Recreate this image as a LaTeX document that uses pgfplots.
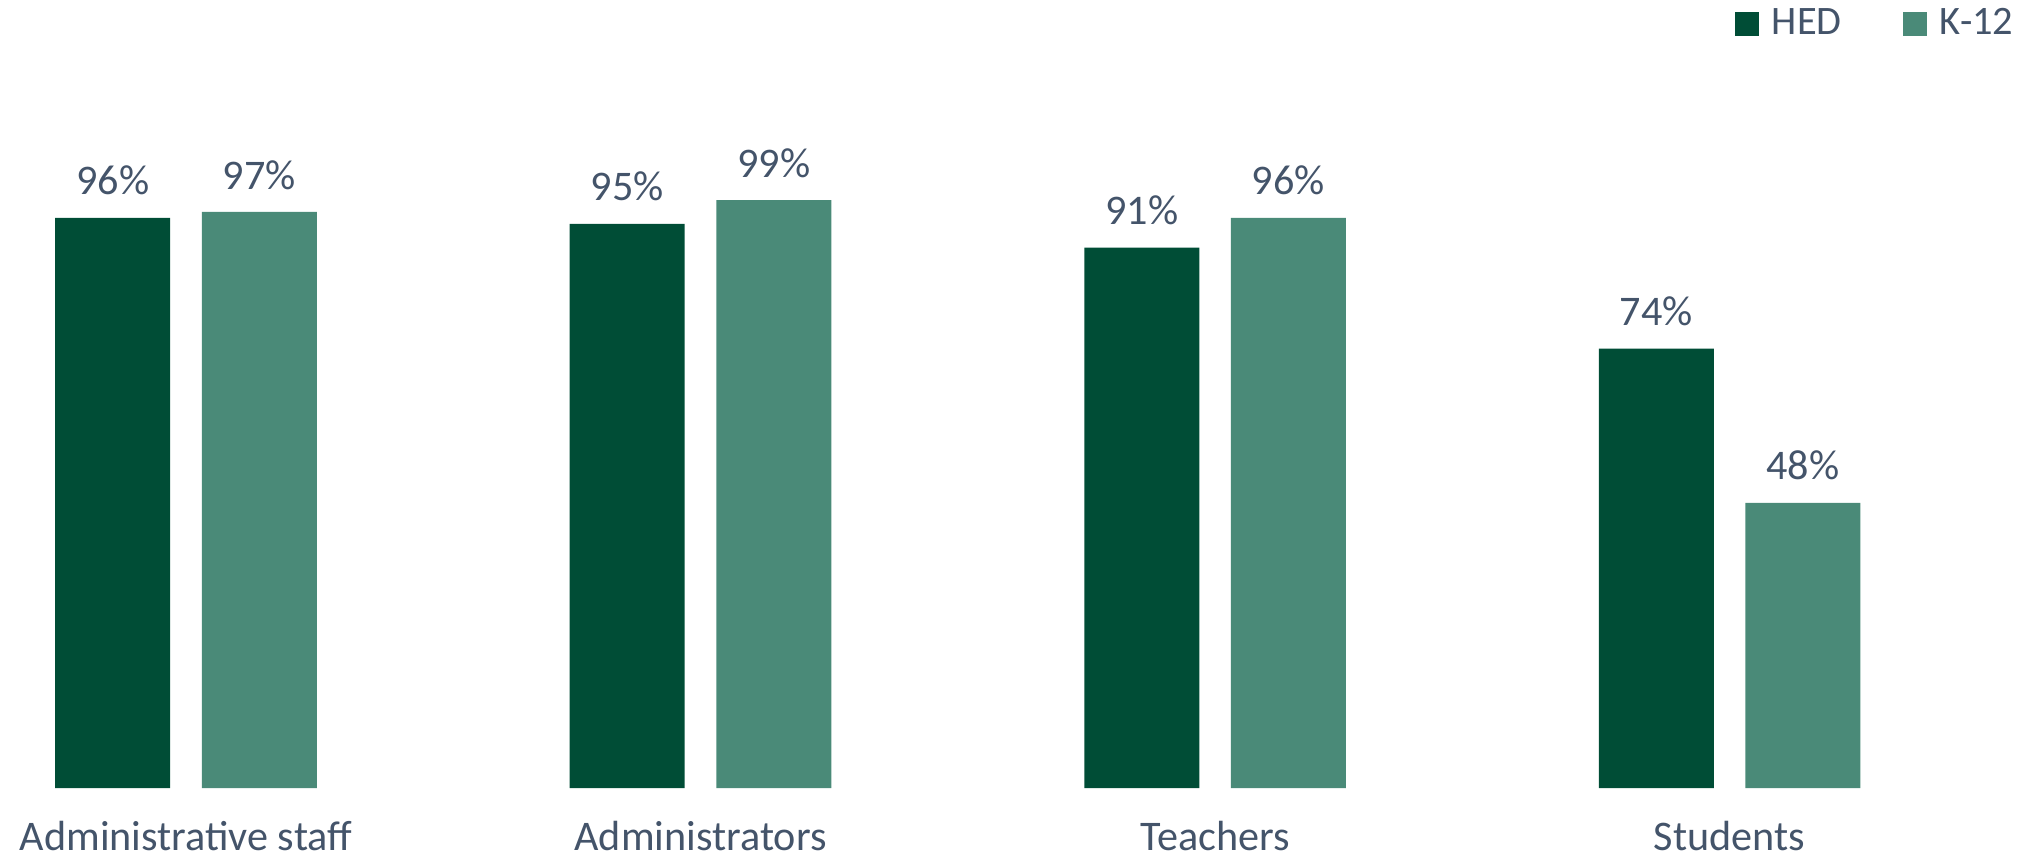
\documentclass[border=0pt]{standalone}
\usepackage{fontspec}
\setmainfont{Carlito}
\usepackage{pgfplots}
\pgfplotsset{compat=1.18}
\definecolor{hed}{RGB}{0,77,54}
\definecolor{kt}{RGB}{74,138,120}
\definecolor{textc}{RGB}{68,84,106}
\begin{document}
\begin{tikzpicture}
\begin{axis}[
  scale only axis,
  width=20.41cm, height=8.62cm,
  xmin=-0.3615, xmax=3.6053,
  ymin=-12.46, ymax=132.7,
  ybar,
  bar width=1.15cm,
  axis line style={draw=none},
  tick style={draw=none},
  major tick length=0pt,
  ytick=\empty,
  xtick={0,1,2,3},
  xticklabels={Administrative staff,Administrators,Teachers,Students},
  x tick label style={anchor=base, yshift=1.2mm, text=textc, font=\fontsize{12}{14.4}\selectfont, inner sep=0pt},
  /pgf/number format/assume math mode=true,
  nodes near coords={\pgfmathprintnumber{\pgfplotspointmeta}\%},
  nodes near coords style={anchor=base, yshift=2.3mm, text=textc, font=\fontsize{12}{14.4}\selectfont, inner sep=0pt},
  legend columns=2,
  legend style={draw=none, fill=none, at={(0.9868,0.9722)}, anchor=east, inner sep=0pt,
    nodes={inner sep=0pt, text=textc, font=\fontsize{11.5}{13}\selectfont},
    /tikz/every odd column/.append style={column sep=1.3mm},
    /tikz/every even column/.append style={column sep=6.1mm}},
  legend image code/.code={\fill[#1] (0cm,-1.2mm) rectangle (2.4mm,1.2mm);},
]
\addplot[fill=hed, draw=none, bar shift=-0.733cm] coordinates {(0,96) (1,95) (2,91) (3,74)};
\addplot[fill=kt, draw=none, bar shift=0.733cm] coordinates {(0,97) (1,99) (2,96) (3,48)};
\legend{HED,K-12}
\end{axis}
\pgfresetboundingbox
\path[use as bounding box] (current axis.south west) rectangle (current axis.north east);
\end{tikzpicture}
\end{document}
